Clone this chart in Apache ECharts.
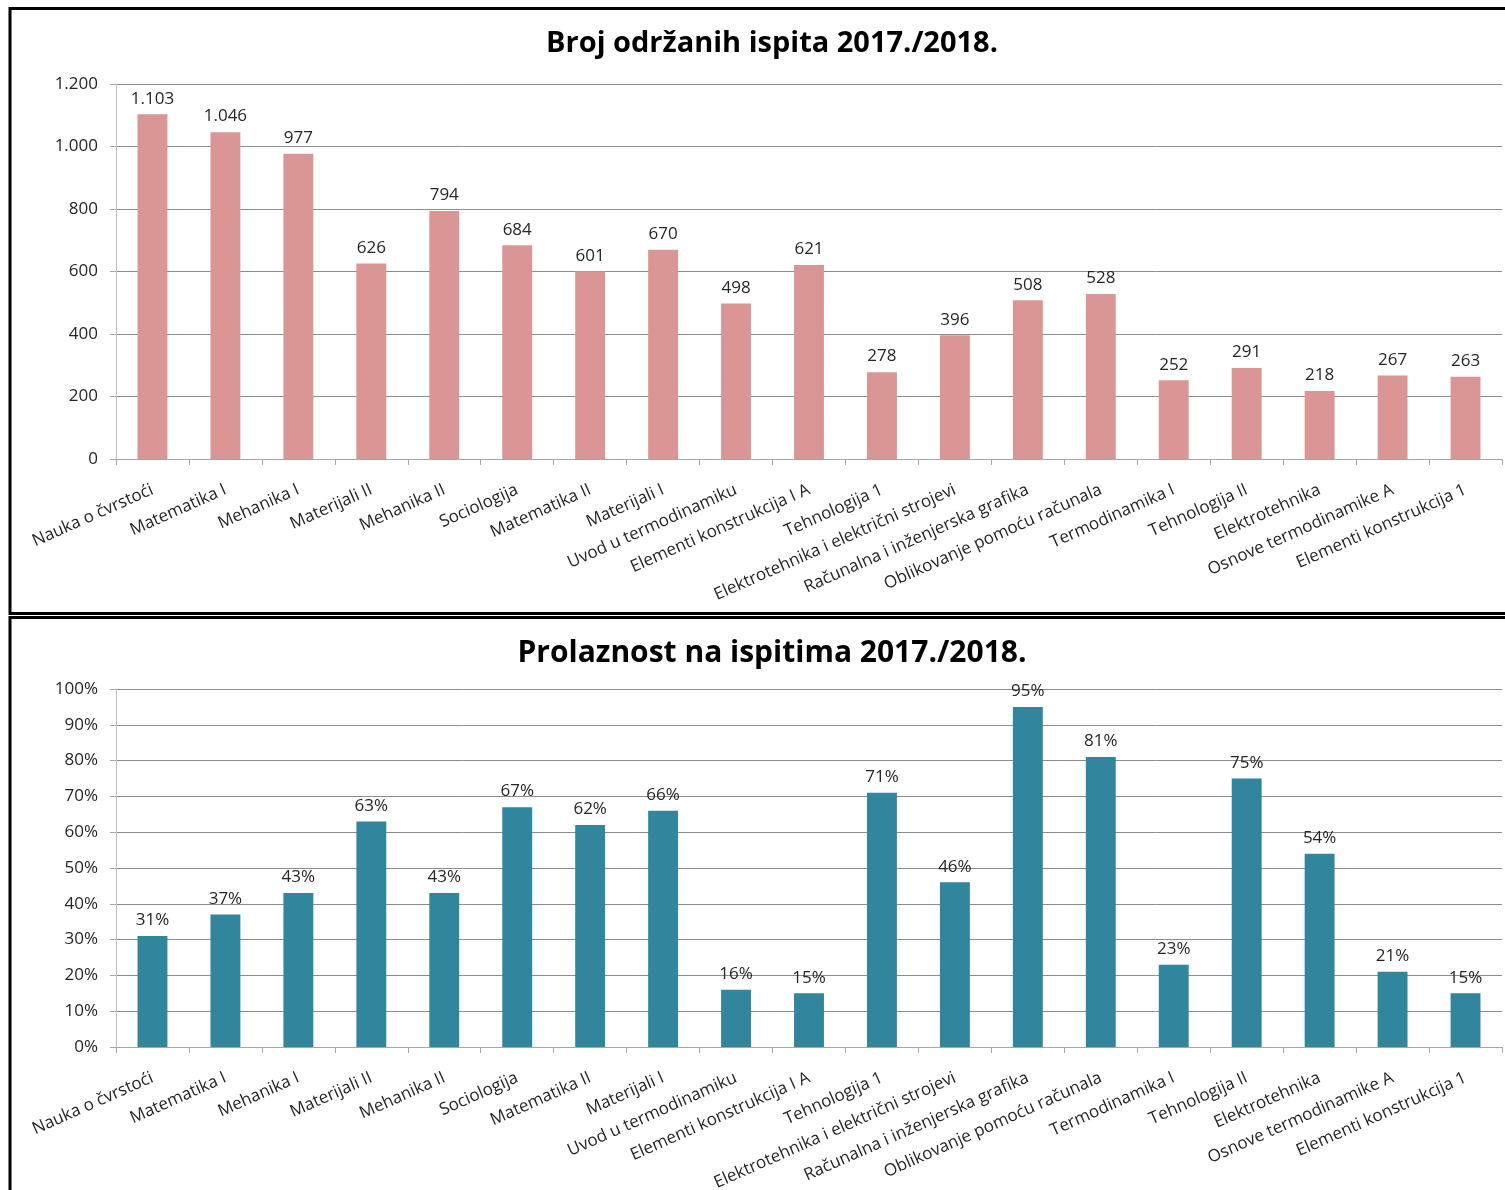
<!DOCTYPE html>
<html>
<head>
<meta charset="utf-8">
<script src="https://cdn.jsdelivr.net/npm/echarts@6/dist/echarts.min.js"></script>
<style>
  html, body { margin: 0; padding: 0; background: #fff; }
  #chart { width: 1505px; height: 1190px; }
</style>
</head>
<body>
<div id="chart"></div>
<script>
// Subjects (same order in both charts)
const subjects = [
  'Nauka o čvrstoći', 'Matematika I', 'Mehanika I', 'Materijali II', 'Mehanika II',
  'Sociologija', 'Matematika II', 'Materijali I', 'Uvod u termodinamiku',
  'Elementi konstrukcija I A', 'Tehnologija 1', 'Elektrotehnika i električni strojevi',
  'Računalna i inženjerska grafika', 'Oblikovanje pomoću računala', 'Termodinamika I',
  'Tehnologija II', 'Elektrotehnika', 'Osnove termodinamike A', 'Elementi konstrukcija 1'
];

// Number of exams held 2017./2018.
const examsHeld = [1103, 1046, 977, 626, 794, 684, 601, 670, 498, 621, 278, 396, 508, 528, 252, 291, 218, 267, 263];

// Pass rate in percent 2017./2018.
const passRate = [31, 37, 43, 63, 43, 67, 62, 66, 16, 15, 71, 46, 95, 81, 23, 75, 54, 21, 15];

const titles = ['Broj održanih ispita 2017./2018.', 'Prolaznost na ispitima 2017./2018.'];

const FONT = 'Open Sans';
const TEXT = '#262626';

// thousands separator "." (1.200)
function thousands(v) {
  return String(Math.round(v)).replace(/\B(?=(\d{3})+(?!\d))/g, '.');
}

function categoryAxis(gridIndex) {
  return {
    type: 'category',
    gridIndex: gridIndex,
    data: subjects,
    axisLine: { lineStyle: { color: '#a6a6a6', width: 1 } },
    axisTick: { show: true, length: 6, lineStyle: { color: '#a6a6a6' } },
    axisLabel: {
      interval: 0,
      rotate: 24,
      margin: 30,
      fontFamily: FONT,
      fontSize: 17,
      color: TEXT
    }
  };
}

function valueAxis(gridIndex, max, interval, fmt) {
  return {
    type: 'value',
    gridIndex: gridIndex,
    min: 0,
    max: max,
    interval: interval,
    axisLine: { show: true, lineStyle: { color: '#bfbfbf' } },
    axisTick: { show: true, length: 6, lineStyle: { color: '#a6a6a6' } },
    splitLine: { lineStyle: { color: '#8c8c8c', width: 1 } },
    axisLabel: {
      margin: 18,
      fontFamily: FONT,
      fontSize: 17,
      color: TEXT,
      formatter: fmt
    }
  };
}

const chart = echarts.init(document.getElementById('chart'), null, { renderer: 'canvas' });

chart.setOption({
  backgroundColor: '#ffffff',
  animation: false,
  title: [
    {
      text: titles[0], left: 767, top: 24, textAlign: 'center',
      textStyle: { fontFamily: FONT, fontWeight: 'bold', fontSize: 29, color: '#000' }
    },
    {
      text: titles[1], left: 767, top: 633, textAlign: 'center',
      textStyle: { fontFamily: FONT, fontWeight: 'bold', fontSize: 30, color: '#000' }
    }
  ],
  graphic: [
    {
      type: 'rect', silent: true,
      shape: { x: 10, y: 8.5, width: 1520, height: 605 },
      style: { fill: 'none', stroke: '#000', lineWidth: 3 }
    },
    {
      type: 'rect', silent: true,
      shape: { x: 10, y: 617.5, width: 1520, height: 600 },
      style: { fill: 'none', stroke: '#000', lineWidth: 3 }
    }
  ],
  grid: [
    { left: 116, right: 3, top: 84, height: 375, containLabel: false, outerBoundsMode: 'none' },
    { left: 116, right: 3, top: 689, height: 358, containLabel: false, outerBoundsMode: 'none' }
  ],
  xAxis: [categoryAxis(0), categoryAxis(1)],
  yAxis: [
    valueAxis(0, 1200, 200, function (v) { return thousands(v); }),
    valueAxis(1, 100, 10, function (v) { return v + '%'; })
  ],
  series: [
    {
      type: 'bar',
      xAxisIndex: 0, yAxisIndex: 0,
      data: examsHeld,
      barWidth: '41%',
      itemStyle: { color: '#d99694' },
      label: {
        show: true, position: 'top', distance: 7,
        fontFamily: FONT, fontSize: 17, color: TEXT,
        formatter: function (p) { return thousands(p.value); }
      }
    },
    {
      type: 'bar',
      xAxisIndex: 1, yAxisIndex: 1,
      data: passRate,
      barWidth: '41%',
      itemStyle: { color: '#31859c' },
      label: {
        show: true, position: 'top', distance: 7,
        fontFamily: FONT, fontSize: 17, color: TEXT,
        formatter: function (p) { return p.value + '%'; }
      }
    }
  ]
});
</script>
</body>
</html>
